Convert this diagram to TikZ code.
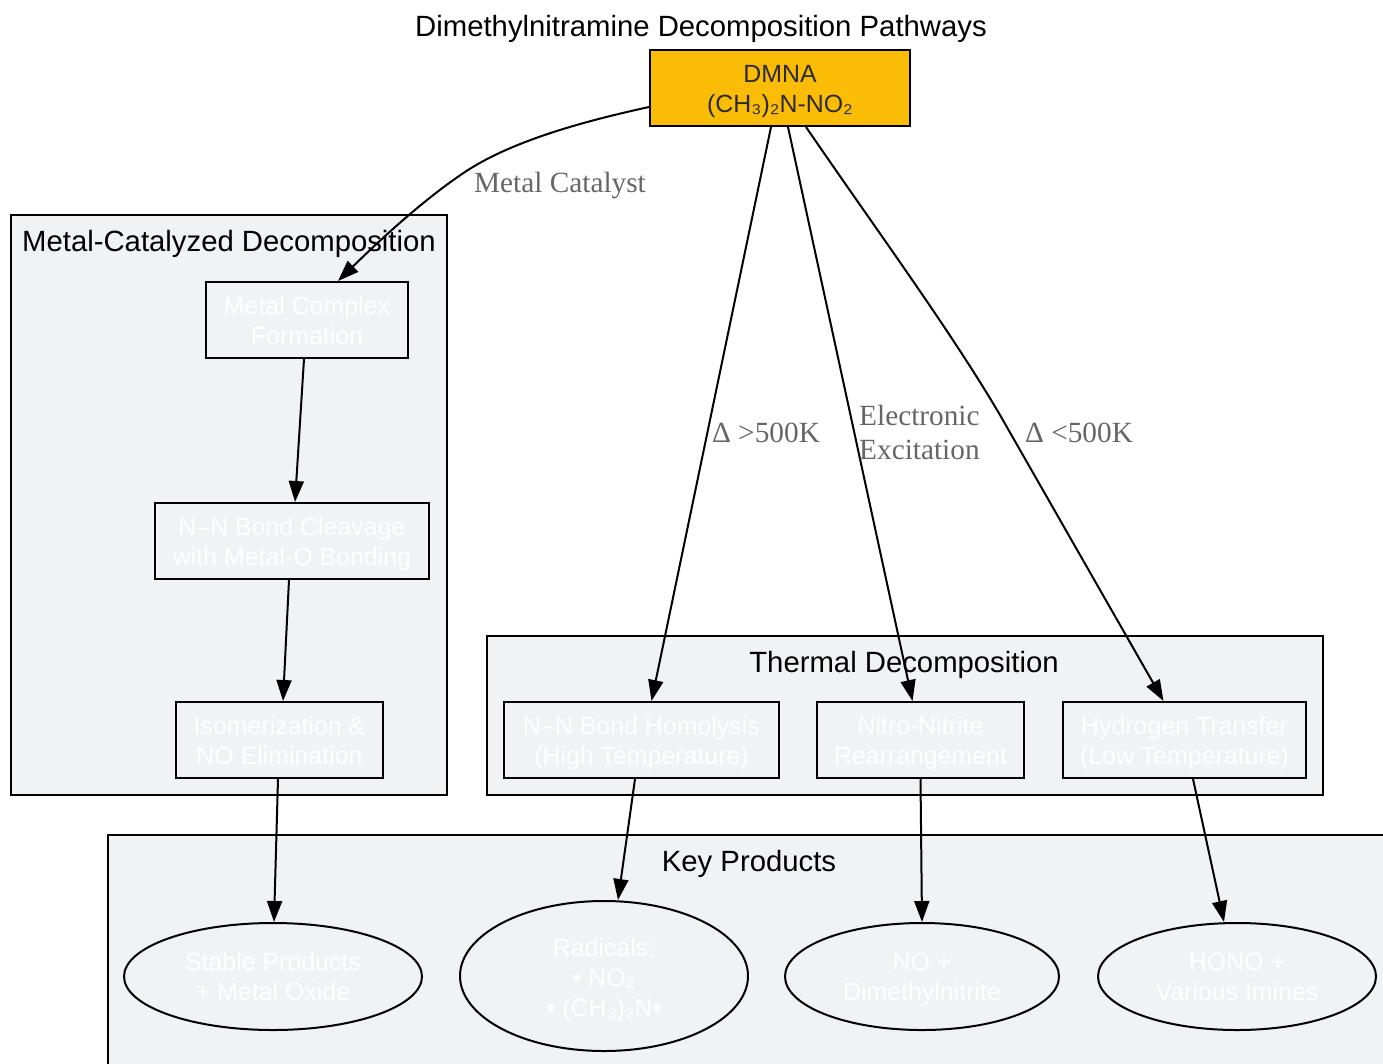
\documentclass[tikz,border=0pt]{standalone}
\usepackage{fontspec}
\setmainfont{Liberation Serif}
\newfontfamily\arialish{Liberation Sans}
\usetikzlibrary{shapes.geometric,arrows.meta}
\definecolor{clusterfill}{HTML}{F1F2F4}
\definecolor{amber}{HTML}{FBBC05}
\definecolor{labelgray}{HTML}{666666}
\definecolor{darktext}{HTML}{2B2B2B}
\tikzset{
  box/.style={draw=black, line width=2pt, rectangle, inner sep=0pt, align=center,
    text=white, font=\arialish\fontsize{24.9}{30}\selectfont, minimum height=76pt,
    text height=50pt, text depth=2pt},
  oval/.style={draw=black, line width=2pt, ellipse, inner sep=0pt, align=center,
    text=white, font=\arialish\fontsize{24.9}{30}\selectfont,
    text height=50pt, text depth=2pt},
  cluster/.style={draw=black, line width=2pt, fill=clusterfill},
  clabel/.style={font=\arialish\fontsize{29.3}{35}\selectfont, text=black, inner sep=0pt},
  elabel/.style={font=\fontsize{29.3}{34}\selectfont, text=labelgray, inner sep=0pt},
  edge/.style={line width=2pt, draw=black, -{Triangle[length=21pt,width=15pt]}},
}
\begin{document}
\begin{tikzpicture}[x=1pt,y=-1pt]
\clip (0,0) rectangle (1383,1063);
\fill[white] (0,0) rectangle (1383,1063);

% title
\node[clabel] (title) at (701,29) {Dimethylnitramine Decomposition Pathways};

% clusters
\draw[cluster] (11,215) rectangle (447,795);
\node[clabel] (metallbl) at (229,244) {Metal-Catalyzed Decomposition};
\draw[cluster] (487,636) rectangle (1323,795);
\node[clabel] (thermlbl) at (904,665) {Thermal Decomposition};
\draw[cluster] (108,835) rectangle (1395,1075);
\node[clabel] (prodlbl) at (749,864) {Key Products};

% DMNA
\node[box, fill=amber, text=darktext, minimum width=260pt] (dmna) at (780,88) {DMNA\\(CH₃)₂N-NO₂};

% metal-catalyzed
\node[box, minimum width=202pt] (mcf) at (307,320) {Metal Complex\\Formation};
\node[box, minimum width=274pt] (cleave) at (292,541) {N–N Bond Cleavage\\with Metal-O Bonding};
\node[box, minimum width=207pt] (isom) at (279.5,740) {Isomerization \&\\NO Elimination};

% thermal
\node[box, minimum width=275pt] (homo) at (641.5,740) {N–N Bond Homolysis\\(High Temperature)};
\node[box, minimum width=207pt] (nitro) at (920.5,740) {Nitro-Nitrite\\Rearrangement};
\node[box, minimum width=243pt] (hyd) at (1184.5,740) {Hydrogen Transfer\\(Low Temperature)};

% products
\node[oval, minimum width=298pt, minimum height=107pt] (stable) at (273,976.5) {Stable Products\\+ Metal Oxide};
\node[oval, minimum width=288pt, minimum height=150pt, text height=82pt, text depth=2pt] (rad) at (604,976) {Radicals:\\• NO₂\\• (CH₃)₂N•};
\node[oval, minimum width=274pt, minimum height=107pt] (noprod) at (922,976.5) {NO +\\Dimethylnitrite};
\node[oval, minimum width=278pt, minimum height=107pt] (hono) at (1237,976.5) {HONO +\\Various Imines};

% edges from DMNA
\draw[edge] ([yshift=-19pt]dmna.west) .. controls (585,121) and (515,140) .. (468,170)
  .. controls (425,198) and (380,240) .. ([xshift=31pt]mcf.north);
\node[elabel] (lblmetal) at (560,185) {Metal Catalyst};

\draw[edge] ([xshift=-9pt]dmna.south) -- ([xshift=10pt]homo.north);
\node[elabel] (lblhigh) at (766,433) {Δ >500K};

\draw[edge] ([xshift=8pt]dmna.south) -- ([xshift=-8pt]nitro.north);
\node[elabel, align=left, anchor=west] (lblexc) at (859,432) {Electronic\\Excitation};

\draw[edge] ([xshift=26pt]dmna.south) .. controls (880,235) and (950,330) .. (1000,415)
  -- ([xshift=-21pt]hyd.north);
\node[elabel] (lbllow) at (1079,433) {Δ <500K};

% metal chain
\draw[edge] ([xshift=-3pt]mcf.south) -- ([xshift=3pt]cleave.north);
\draw[edge] ([xshift=-3pt]cleave.south) -- ([xshift=3.5pt]isom.north);
\draw[edge] ([xshift=-1.5pt]isom.south) -- ([xshift=1pt]stable.north);

% thermal to products
\draw[edge] ([xshift=-6.5pt]homo.south) -- ([xshift=14pt]rad.north);
\draw[edge] (nitro.south) -- (noprod.north);
\draw[edge] ([xshift=8.5pt]hyd.south) -- ([xshift=-13pt]hono.north);
\end{tikzpicture}
\end{document}
